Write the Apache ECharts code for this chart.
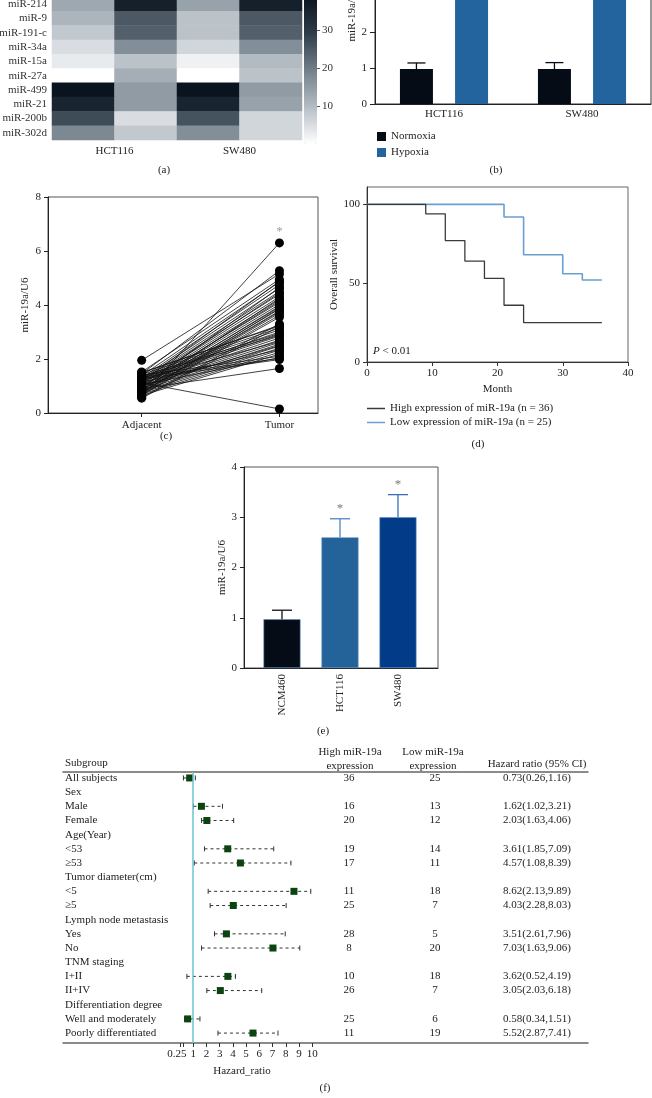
<!DOCTYPE html>
<html lang="en">
<head>
<meta charset="UTF-8">
<title>miR-19a</title>
<script src="https://cdn.jsdelivr.net/npm/echarts@6.0.0/dist/echarts.min.js"></script>
<style>
    html, body { margin: 0; padding: 0; background: #fff; }
    #main { width: 652px; height: 1098px; }
</style>
</head>
<body>
<div id="main"></div>
<script>
    // (a) heatmap
    var heatRows = ['miR-214', 'miR-9', 'miR-191-c', 'miR-34a', 'miR-15a', 'miR-27a', 'miR-499', 'miR-21', 'miR-200b', 'miR-302d'];
    var heatCols = ['HCT116 N', 'HCT116 H', 'SW480 N', 'SW480 H'];
    var heatGroups = ['HCT116', 'SW480'];
    var heatValues = [
        [13, 36, 14, 36],
        [11, 25, 9, 25],
        [8, 24, 9, 24],
        [5, 17, 6, 17],
        [3, 9, 2, 10],
        [0, 12, 0, 9],
        [39, 15, 39, 15],
        [35, 15, 35, 14],
        [27, 5, 26, 6],
        [18, 8, 17, 6]
    ];
    var colorTicks = [10, 20, 30];

    // (b) normoxia / hypoxia
    var bCats = ['HCT116', 'SW480'];
    var normoxia = [0.97, 0.97];
    var normoxiaErr = [1.14, 1.15];
    var hypoxia = [3.9, 3.7];
    var hypoxiaErr = [4.3, 4.1];

    // (c) paired samples
    var adjacent = [1.95, 0.62, 1.12, 0.90, 1.45, 1.52, 1.38, 1.30, 1.25, 1.20, 1.15, 1.10, 1.05, 1.00, 0.95, 0.88, 0.82, 0.78, 0.72, 0.68,
        0.58, 0.55, 1.48, 1.42, 1.35, 1.28, 1.22, 1.18, 1.08, 1.02, 0.98, 0.92, 0.85, 0.80, 0.75, 0.70, 0.65, 1.40, 1.33, 1.26,
        1.16, 1.06, 0.96, 0.86, 0.76, 0.66, 1.50, 1.36, 1.24, 1.14, 1.04, 0.94, 0.84, 0.74, 1.32, 1.00];
    var tumor = [5.15, 6.30, 0.15, 1.65, 5.27, 4.95, 4.85, 4.75, 4.62, 4.50, 4.40, 4.30, 4.20, 4.10, 4.02, 3.92, 3.85, 3.78, 3.70, 3.62,
        3.30, 3.20, 3.25, 3.15, 3.08, 3.00, 2.92, 2.85, 2.78, 2.70, 2.62, 2.55, 2.48, 2.40, 2.33, 2.25, 2.18, 2.10, 2.02, 1.98,
        4.88, 4.45, 4.15, 3.95, 3.75, 3.55, 3.22, 2.95, 2.65, 2.35, 2.05, 4.65, 4.25, 3.88, 2.88, 2.50];
    var pairCats = ['Adjacent', 'Tumor'];

    // (d) survival
    var kmHighMonth = [0, 9, 12, 15, 18, 21, 24, 36];
    var kmHighSurv = [100, 94, 77, 64, 53, 36, 25, 25];
    var kmLowMonth = [0, 21, 24, 30, 33, 36];
    var kmLowSurv = [100, 92, 68, 56, 52, 52];

    // (e) cell lines
    var eCats = ['NCM460', 'HCT116', 'SW480'];
    var eMean = [0.97, 2.60, 3.00];
    var eErr = [1.15, 2.97, 3.45];
    var eSig = ['', '*', '*'];

    // (f) forest plot
    var subgroups = ['All subjects', 'Sex', 'Male', 'Female', 'Age(Year)', '<53', '\u226553', 'Tumor diameter(cm)', '<5', '\u22655',
        'Lymph node metastasis', 'Yes', 'No', 'TNM staging', 'I+II', 'II+IV', 'Differentiation degree', 'Well and moderately', 'Poorly differentiated'];
    var highN = [36, null, 16, 20, null, 19, 17, null, 11, 25, null, 28, 8, null, 10, 26, null, 25, 11];
    var lowN = [25, null, 13, 12, null, 14, 11, null, 18, 7, null, 5, 20, null, 18, 7, null, 6, 19];
    var hr = [0.73, null, 1.62, 2.03, null, 3.61, 4.57, null, 8.62, 4.03, null, 3.51, 7.03, null, 3.62, 3.05, null, 0.58, 5.52];
    var hrLo = [0.26, null, 1.02, 1.63, null, 1.85, 1.08, null, 2.13, 2.28, null, 2.61, 1.63, null, 0.52, 2.03, null, 0.34, 2.87];
    var hrHi = [1.16, null, 3.21, 4.06, null, 7.09, 8.39, null, 9.89, 8.03, null, 7.96, 9.06, null, 4.19, 6.18, null, 1.51, 7.41];
    var hrTickValues = [0, 0.25, 1, 2, 3, 4, 5, 6, 7, 8, 9, 10];
    var hrLabelValues = [0.25, 1, 2, 3, 4, 5, 6, 7, 8, 9, 10];

    var FONT = 'Liberation Serif';
    var bColors = ['#050c16', '#24649e'];
    var eColors = ['#050c16', '#246399', '#023b87'];
    var eErrColors = ['#111111', '#4a86c2', '#3d6fb8'];

    var rowIdx = subgroups.map(function (s, i) { return i; });

    var heatData = [];
    heatValues.forEach(function (row, r) {
        row.forEach(function (v, c) { heatData.push([c, r, v]); });
    });

    function errB(params, api) {
        var layout = api.barLayout({ barWidth: 33, barGap: '67%', count: 2 });
        var slot = api.value(3);
        var base = api.coord([api.value(0), api.value(1)]);
        var top = api.coord([api.value(0), api.value(2)]);
        var x = base[0] + layout[slot].offsetCenter;
        var st = { stroke: bColors[slot], lineWidth: 1.3 };
        return {
            type: 'group', children: [
                { type: 'line', shape: { x1: x, y1: base[1], x2: x, y2: top[1] }, style: st },
                { type: 'line', shape: { x1: x - 9, y1: top[1], x2: x + 9, y2: top[1] }, style: st }
            ]
        };
    }

    function errE(params, api) {
        var i = params.dataIndex;
        var base = api.coord([api.value(0), api.value(1)]);
        var top = api.coord([api.value(0), api.value(2)]);
        var st = { stroke: eErrColors[i], lineWidth: 1.3 };
        return {
            type: 'group', children: [
                { type: 'line', shape: { x1: base[0], y1: base[1], x2: base[0], y2: top[1] }, style: st },
                { type: 'line', shape: { x1: base[0] - 10, y1: top[1], x2: base[0] + 10, y2: top[1] }, style: st },
                { type: 'text', x: base[0], y: top[1] - 4, style: { text: eSig[i], fill: '#777', font: '13px ' + FONT, align: 'center', verticalAlign: 'bottom' } }
            ]
        };
    }

    function ciRender(params, api) {
        var a = api.coord([api.value(0), api.value(2)]);
        var b = api.coord([api.value(1), api.value(2)]);
        var st = { stroke: '#333', lineWidth: 1 };
        return {
            type: 'group', children: [
                { type: 'line', shape: { x1: a[0], y1: a[1], x2: b[0], y2: b[1] }, style: { stroke: '#333', lineWidth: 1, lineDash: [3, 3] } },
                { type: 'line', shape: { x1: a[0], y1: a[1] - 2.5, x2: a[0], y2: a[1] + 2.5 }, style: st },
                { type: 'line', shape: { x1: b[0], y1: b[1] - 2.5, x2: b[0], y2: b[1] + 2.5 }, style: st }
            ]
        };
    }

    var ciData = [], hrData = [];
    hr.forEach(function (v, i) {
        if (v != null) {
            ciData.push([hrLo[i], hrHi[i], i]);
            hrData.push([v, i]);
        }
    });

    var lbl = { fontFamily: FONT, fontSize: 11, color: '#222' };
    var blackLine = { show: true, onZero: false, lineStyle: { color: '#222', width: 1 } };
    var noLine = { show: false, onZero: false };

    var series = [
        {
            type: 'heatmap', xAxisIndex: 0, yAxisIndex: 0, data: heatData,
            emphasis: { disabled: true }, silent: true
        },
        {
            name: 'Normoxia', type: 'bar', xAxisIndex: 3, yAxisIndex: 2, data: normoxia,
            barWidth: 33, barGap: '67%', itemStyle: { color: bColors[0] }
        },
        {
            name: 'Hypoxia', type: 'bar', xAxisIndex: 3, yAxisIndex: 2, data: hypoxia,
            barWidth: 33, barGap: '67%', itemStyle: { color: bColors[1] }
        },
        {
            type: 'custom', xAxisIndex: 3, yAxisIndex: 2, renderItem: errB, z: 3,
            data: normoxia.map(function (v, i) { return [i, v, normoxiaErr[i], 0]; })
                .concat(hypoxia.map(function (v, i) { return [i, v, hypoxiaErr[i], 1]; }))
        }
    ];

    adjacent.forEach(function (a, i) {
        series.push({
            type: 'line', xAxisIndex: 4, yAxisIndex: 3, data: [[1, a], [2, tumor[i]]],
            symbol: 'circle', symbolSize: 9, itemStyle: { color: '#000' },
            lineStyle: { color: '#111', width: 0.8 }, silent: true
        });
    });
    series.push({
        type: 'scatter', xAxisIndex: 4, yAxisIndex: 3, data: [[2, Math.max.apply(null, tumor)]],
        symbolSize: 0, silent: true,
        label: { show: true, position: 'top', distance: 5, formatter: '*', color: '#888', fontFamily: FONT, fontSize: 13 }
    });

    series.push({
        name: 'Low expression of miR-19a (n = 25)', type: 'line', xAxisIndex: 5, yAxisIndex: 4, step: 'end',
        data: kmLowMonth.map(function (m, i) { return [m, kmLowSurv[i]]; }),
        symbol: 'none', itemStyle: { color: '#6b9fd1' }, lineStyle: { color: '#6b9fd1', width: 1.6 }
    });
    series.push({
        name: 'High expression of miR-19a (n = 36)', type: 'line', xAxisIndex: 5, yAxisIndex: 4, step: 'end',
        data: kmHighMonth.map(function (m, i) { return [m, kmHighSurv[i]]; }),
        symbol: 'none', itemStyle: { color: '#3a3a3a' }, lineStyle: { color: '#3a3a3a', width: 1.3 }
    });

    series.push({
        type: 'bar', xAxisIndex: 6, yAxisIndex: 5, barWidth: 37,
        data: eMean.map(function (v, i) { return [i + 1, v]; }),
        itemStyle: { color: function (p) { return eColors[p.dataIndex]; }, borderColor: '#5d8fc4', borderWidth: 0.6 }
    });
    series.push({
        type: 'custom', xAxisIndex: 6, yAxisIndex: 5, renderItem: errE, z: 3,
        data: eMean.map(function (v, i) { return [i + 1, v, eErr[i]]; })
    });

    series.push({
        type: 'custom', xAxisIndex: 7, yAxisIndex: 6, renderItem: ciRender, data: ciData, z: 2, silent: true
    });
    series.push({
        type: 'scatter', xAxisIndex: 7, yAxisIndex: 6, data: hrData, symbol: 'rect', symbolSize: 7,
        itemStyle: { color: '#0b4410', opacity: 1 }, z: 4, silent: true,
        markLine: {
            silent: true, symbol: 'none', label: { show: false },
            lineStyle: { color: '#6cc3cf', width: 1.5, type: 'solid' },
            data: [{ xAxis: 1 }]
        }
    });

    function titleAt(text, x, y, align, extra) {
        return {
            text: text, left: x, top: y, textAlign: align || 'center', padding: 0,
            textStyle: Object.assign({ fontFamily: FONT, fontSize: 11, fontWeight: 'normal', color: '#222' }, extra || {})
        };
    }

    var option = {
        animation: false,
        textStyle: { fontFamily: FONT },
        title: [
            titleAt('(a)', 164, 165),
            titleAt('(b)', 496, 165),
            titleAt('(c)', 166, 431),
            titleAt('(d)', 478, 439),
            titleAt('(e)', 323, 726),
            titleAt('(f)', 325, 1083),
            titleAt('{i|P} < 0.01', 373, 346, 'left', { rich: { i: { fontStyle: 'italic', fontFamily: FONT, fontSize: 11, color: '#222' } } }),
            titleAt('Subgroup', 65, 758, 'left'),
            titleAt('High miR-19a\nexpression', 350, 745, 'center', { lineHeight: 14 }),
            titleAt('Low miR-19a\nexpression', 433, 745, 'center', { lineHeight: 14 }),
            titleAt('Hazard ratio (95% CI)', 537, 759),
            titleAt('Hazard_ratio', 242, 1066)
        ],
        legend: [
            {
                data: ['Normoxia', 'Hypoxia'], left: 377, top: 131, orient: 'vertical', padding: 0,
                icon: 'rect', itemWidth: 9, itemHeight: 9, itemGap: 5, selectedMode: false,
                textStyle: lbl
            },
            {
                data: ['High expression of miR-19a (n = 36)', 'Low expression of miR-19a (n = 25)'],
                left: 367, top: 403, orient: 'vertical', padding: 0,
                icon: 'rect', itemWidth: 18, itemHeight: 1.5, itemGap: 3, selectedMode: false,
                textStyle: lbl
            }
        ],
        visualMap: [{
            type: 'continuous', min: 0, max: 39.5, seriesIndex: 0, calculable: false, hoverLink: false,
            orient: 'vertical', left: 304, top: -6, itemWidth: 13, itemHeight: 150, padding: 0,
            inRange: { color: ['#ffffff', '#b4bcc3', '#707d88', '#2c3a47', '#08121c'] }
        }],
        grid: [
            { left: 52, width: 250, top: -3, height: 143, outerBoundsMode: 'none' },
            { left: 300, width: 17, top: -6, height: 150, outerBoundsMode: 'none' },
            { left: 375, right: 1, top: -76, bottom: 994, outerBoundsMode: 'none', show: true, borderColor: '#333', borderWidth: 1 },
            { left: 48, right: 334, top: 197, bottom: 685, outerBoundsMode: 'none', show: true, borderColor: '#555', borderWidth: 1 },
            { left: 367, right: 24, top: 187, bottom: 736, outerBoundsMode: 'none', show: true, borderColor: '#666', borderWidth: 1 },
            { left: 244, right: 214, top: 467, bottom: 430, outerBoundsMode: 'none', show: true, borderColor: '#555', borderWidth: 1 },
            { left: 63, right: 64, top: 772, bottom: 55, outerBoundsMode: 'none' }
        ],
        xAxis: [
            { type: 'category', gridIndex: 0, data: heatCols, show: false },
            {
                type: 'category', gridIndex: 0, data: heatGroups, position: 'bottom',
                axisLine: noLine, axisTick: { show: false }, axisLabel: Object.assign({ margin: 6 }, lbl)
            },
            { type: 'value', gridIndex: 1, show: false },
            {
                type: 'category', gridIndex: 2, data: bCats, axisLine: blackLine, axisTick: { show: false },
                axisLabel: Object.assign({ margin: 5 }, lbl)
            },
            {
                type: 'value', gridIndex: 3, min: 0.32, max: 2.28, axisLine: blackLine, splitLine: { show: false },
                axisTick: { show: true, length: 4, customValues: [1, 2], lineStyle: { color: '#222' } },
                axisLabel: Object.assign({ margin: 7, customValues: [1, 2], formatter: function (v) { return pairCats[Math.round(v) - 1]; } }, lbl)
            },
            {
                type: 'value', gridIndex: 4, min: 0, max: 40, interval: 10,
                axisLine: { show: true, onZero: false, lineStyle: { color: '#333' } },
                splitLine: { show: false }, axisTick: { show: true, length: 4, lineStyle: { color: '#333' } },
                axisLabel: Object.assign({ margin: 6 }, lbl),
                name: 'Month', nameLocation: 'middle', nameGap: 22, nameTextStyle: lbl
            },
            {
                type: 'value', gridIndex: 5, min: 0.345, max: 3.69, axisLine: blackLine, splitLine: { show: false },
                axisTick: { show: false },
                axisLabel: Object.assign({ margin: 6, rotate: 90, customValues: [1, 2, 3], formatter: function (v) { return eCats[Math.round(v) - 1]; } }, lbl)
            },
            {
                type: 'value', gridIndex: 6, min: -8.85, max: 30.86, position: 'bottom',
                axisLine: { show: true, onZero: false, lineStyle: { color: '#666', width: 1.5 } }, splitLine: { show: false },
                axisTick: { show: true, length: 4, customValues: hrTickValues, lineStyle: { color: '#333' } },
                axisLabel: Object.assign({ margin: 6, customValues: hrLabelValues, showMinLabel: true, showMaxLabel: true, hideOverlap: false,
                    formatter: function (v) { return v < 1 ? '{s|' + v + '}' : String(v); },
                    rich: { s: { fontFamily: FONT, fontSize: 11, color: '#222', padding: [0, 13, 0, 0] } } }, lbl)
            },
            {
                type: 'value', gridIndex: 6, min: -8.85, max: 30.86, position: 'top',
                axisLine: { show: true, onZero: false, lineStyle: { color: '#666', width: 1.5 } }, splitLine: { show: false },
                axisTick: { show: false }, axisLabel: { show: false }
            }
        ],
        yAxis: [
            {
                type: 'category', gridIndex: 0, data: heatRows, inverse: true,
                axisLine: noLine, axisTick: { show: false }, axisLabel: Object.assign({ margin: 5, interval: 0 }, lbl, { color: '#333' })
            },
            {
                type: 'value', gridIndex: 1, min: 0, max: 39.5, position: 'right', splitLine: { show: false },
                axisLine: noLine,
                axisTick: { show: true, length: 3, customValues: colorTicks, lineStyle: { color: '#555' } },
                axisLabel: Object.assign({ margin: 5, customValues: colorTicks }, lbl, { color: '#333' })
            },
            {
                type: 'value', gridIndex: 2, min: 0, max: 5, interval: 1, axisLine: blackLine, splitLine: { show: false },
                axisTick: { show: true, length: 5, lineStyle: { color: '#222' } },
                axisLabel: Object.assign({ margin: 8 }, lbl),
                name: 'miR-19a/U6', nameLocation: 'middle', nameGap: 17, nameTextStyle: lbl
            },
            {
                type: 'value', gridIndex: 3, min: 0, max: 8, interval: 2, axisLine: blackLine, splitLine: { show: false },
                axisTick: { show: true, length: 4, lineStyle: { color: '#222' } },
                axisLabel: Object.assign({ margin: 7 }, lbl),
                name: 'miR-19a/U6', nameLocation: 'middle', nameGap: 17, nameTextStyle: lbl
            },
            {
                type: 'value', gridIndex: 4, min: 0, max: 111,
                axisLine: { show: true, onZero: false, lineStyle: { color: '#333' } },
                splitLine: { show: false },
                axisTick: { show: true, length: 4, customValues: [0, 50, 100], lineStyle: { color: '#333' } },
                axisLabel: Object.assign({ margin: 7, customValues: [0, 50, 100] }, lbl),
                name: 'Overall survival', nameLocation: 'middle', nameGap: 24, nameTextStyle: lbl
            },
            {
                type: 'value', gridIndex: 5, min: 0, max: 4, interval: 1, axisLine: blackLine, splitLine: { show: false },
                axisTick: { show: true, length: 4, lineStyle: { color: '#222' } },
                axisLabel: Object.assign({ margin: 7 }, lbl),
                name: 'miR-19a/U6', nameLocation: 'middle', nameGap: 16, nameTextStyle: lbl
            },
            {
                type: 'value', gridIndex: 6, min: -0.42, max: 18.7, inverse: true, position: 'left',
                axisLine: noLine, axisTick: { show: false }, splitLine: { show: false },
                axisLabel: Object.assign({ inside: true, align: 'left', margin: 2, customValues: rowIdx,
                    formatter: function (v) { return subgroups[Math.round(v)]; } }, lbl)
            },
            {
                type: 'value', gridIndex: 6, min: -0.42, max: 18.7, inverse: true, position: 'left', offset: -286,
                axisLine: noLine, axisTick: { show: false }, splitLine: { show: false },
                axisLabel: Object.assign({ align: 'center', margin: 0, customValues: rowIdx,
                    formatter: function (v) { var n = highN[Math.round(v)]; return n == null ? '' : String(n); } }, lbl)
            },
            {
                type: 'value', gridIndex: 6, min: -0.42, max: 18.7, inverse: true, position: 'left', offset: -372,
                axisLine: noLine, axisTick: { show: false }, splitLine: { show: false },
                axisLabel: Object.assign({ align: 'center', margin: 0, padding: [4, 0, 0, 0], customValues: rowIdx,
                    formatter: function (v) { var n = lowN[Math.round(v)]; return n == null ? '' : String(n); } }, lbl)
            },
            {
                type: 'value', gridIndex: 6, min: -0.42, max: 18.7, inverse: true, position: 'left', offset: -474,
                axisLine: noLine, axisTick: { show: false }, splitLine: { show: false },
                axisLabel: Object.assign({ align: 'center', margin: 0, customValues: rowIdx,
                    formatter: function (v) {
                        var i = Math.round(v);
                        if (hr[i] == null) return '';
                        return hr[i].toFixed(2) + '(' + hrLo[i].toFixed(2) + ',' + hrHi[i].toFixed(2) + ')';
                    } }, lbl)
            }
        ],
        series: series
    };

    var chart = echarts.init(document.getElementById('main'));
    chart.setOption(option);
</script>
</body>
</html>
